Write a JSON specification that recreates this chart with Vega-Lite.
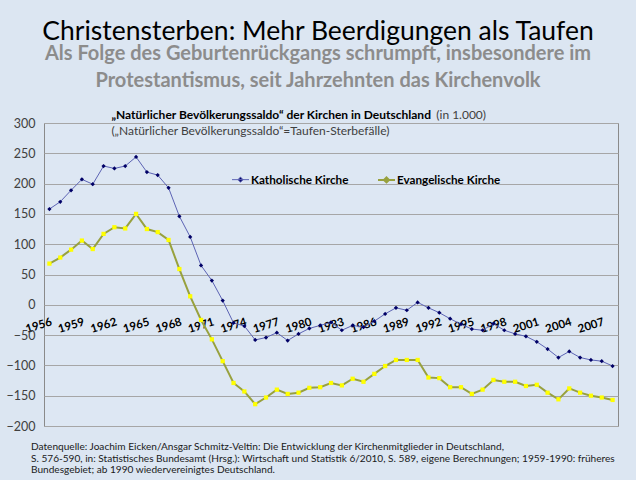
{
  "$schema": "https://vega.github.io/schema/vega-lite/v6.json",
  "autosize": "none",
  "padding": {"left": 44, "top": 123, "right": 18, "bottom": 54},
  "width": 574,
  "height": 303,
  "background": "#dce6f2",
  "title": {
    "text": "Christensterben: Mehr Beerdigungen als Taufen",
    "subtitle": ["Als Folge des Geburtenrückgangs schrumpft, insbesondere im", "Protestantismus, seit Jahrzehnten das Kirchenvolk"],
    "anchor": "middle",
    "frame": "group",
    "dx": -13,
    "offset": 18,
    "font": "Lato",
    "fontSize": 26.5,
    "fontWeight": "normal",
    "color": "#000000",
    "subtitleFont": "Lato",
    "subtitleFontSize": 20,
    "subtitleFontWeight": "bold",
    "subtitleColor": "#8c8c8c",
    "subtitlePadding": -1.5,
    "subtitleLineHeight": 27
  },
  "config": {
    "view": {"stroke": "#8a8a8a", "fill": "#dde7f3"},
    "font": "Lato"
  },
  "data": {"values": [
    {"year": 1956, "church": "Katholische Kirche", "value": 158},
    {"year": 1957, "church": "Katholische Kirche", "value": 170},
    {"year": 1958, "church": "Katholische Kirche", "value": 189},
    {"year": 1959, "church": "Katholische Kirche", "value": 207},
    {"year": 1960, "church": "Katholische Kirche", "value": 199},
    {"year": 1961, "church": "Katholische Kirche", "value": 229},
    {"year": 1962, "church": "Katholische Kirche", "value": 225},
    {"year": 1963, "church": "Katholische Kirche", "value": 229},
    {"year": 1964, "church": "Katholische Kirche", "value": 244},
    {"year": 1965, "church": "Katholische Kirche", "value": 219},
    {"year": 1966, "church": "Katholische Kirche", "value": 214},
    {"year": 1967, "church": "Katholische Kirche", "value": 193},
    {"year": 1968, "church": "Katholische Kirche", "value": 146},
    {"year": 1969, "church": "Katholische Kirche", "value": 112},
    {"year": 1970, "church": "Katholische Kirche", "value": 65},
    {"year": 1971, "church": "Katholische Kirche", "value": 40},
    {"year": 1972, "church": "Katholische Kirche", "value": 7},
    {"year": 1973, "church": "Katholische Kirche", "value": -30},
    {"year": 1974, "church": "Katholische Kirche", "value": -35},
    {"year": 1975, "church": "Katholische Kirche", "value": -58},
    {"year": 1976, "church": "Katholische Kirche", "value": -54},
    {"year": 1977, "church": "Katholische Kirche", "value": -46},
    {"year": 1978, "church": "Katholische Kirche", "value": -59},
    {"year": 1979, "church": "Katholische Kirche", "value": -48},
    {"year": 1980, "church": "Katholische Kirche", "value": -39},
    {"year": 1981, "church": "Katholische Kirche", "value": -34},
    {"year": 1982, "church": "Katholische Kirche", "value": -29},
    {"year": 1983, "church": "Katholische Kirche", "value": -42},
    {"year": 1984, "church": "Katholische Kirche", "value": -34},
    {"year": 1985, "church": "Katholische Kirche", "value": -37},
    {"year": 1986, "church": "Katholische Kirche", "value": -27},
    {"year": 1987, "church": "Katholische Kirche", "value": -15},
    {"year": 1988, "church": "Katholische Kirche", "value": -5},
    {"year": 1989, "church": "Katholische Kirche", "value": -9},
    {"year": 1990, "church": "Katholische Kirche", "value": 4},
    {"year": 1991, "church": "Katholische Kirche", "value": -5},
    {"year": 1992, "church": "Katholische Kirche", "value": -13},
    {"year": 1993, "church": "Katholische Kirche", "value": -23},
    {"year": 1994, "church": "Katholische Kirche", "value": -32},
    {"year": 1995, "church": "Katholische Kirche", "value": -40},
    {"year": 1996, "church": "Katholische Kirche", "value": -42},
    {"year": 1997, "church": "Katholische Kirche", "value": -31},
    {"year": 1998, "church": "Katholische Kirche", "value": -42},
    {"year": 1999, "church": "Katholische Kirche", "value": -48},
    {"year": 2000, "church": "Katholische Kirche", "value": -52},
    {"year": 2001, "church": "Katholische Kirche", "value": -61},
    {"year": 2002, "church": "Katholische Kirche", "value": -73},
    {"year": 2003, "church": "Katholische Kirche", "value": -87},
    {"year": 2004, "church": "Katholische Kirche", "value": -77},
    {"year": 2005, "church": "Katholische Kirche", "value": -87},
    {"year": 2006, "church": "Katholische Kirche", "value": -91},
    {"year": 2007, "church": "Katholische Kirche", "value": -93},
    {"year": 2008, "church": "Katholische Kirche", "value": -101},
    {"year": 1956, "church": "Evangelische Kirche", "value": 68},
    {"year": 1957, "church": "Evangelische Kirche", "value": 78},
    {"year": 1958, "church": "Evangelische Kirche", "value": 91},
    {"year": 1959, "church": "Evangelische Kirche", "value": 106},
    {"year": 1960, "church": "Evangelische Kirche", "value": 92},
    {"year": 1961, "church": "Evangelische Kirche", "value": 117},
    {"year": 1962, "church": "Evangelische Kirche", "value": 128},
    {"year": 1963, "church": "Evangelische Kirche", "value": 126},
    {"year": 1964, "church": "Evangelische Kirche", "value": 150},
    {"year": 1965, "church": "Evangelische Kirche", "value": 125},
    {"year": 1966, "church": "Evangelische Kirche", "value": 120},
    {"year": 1967, "church": "Evangelische Kirche", "value": 107},
    {"year": 1968, "church": "Evangelische Kirche", "value": 59},
    {"year": 1969, "church": "Evangelische Kirche", "value": 14},
    {"year": 1970, "church": "Evangelische Kirche", "value": -25},
    {"year": 1971, "church": "Evangelische Kirche", "value": -57},
    {"year": 1972, "church": "Evangelische Kirche", "value": -93},
    {"year": 1973, "church": "Evangelische Kirche", "value": -129},
    {"year": 1974, "church": "Evangelische Kirche", "value": -143},
    {"year": 1975, "church": "Evangelische Kirche", "value": -164},
    {"year": 1976, "church": "Evangelische Kirche", "value": -153},
    {"year": 1977, "church": "Evangelische Kirche", "value": -140},
    {"year": 1978, "church": "Evangelische Kirche", "value": -147},
    {"year": 1979, "church": "Evangelische Kirche", "value": -145},
    {"year": 1980, "church": "Evangelische Kirche", "value": -137},
    {"year": 1981, "church": "Evangelische Kirche", "value": -136},
    {"year": 1982, "church": "Evangelische Kirche", "value": -129},
    {"year": 1983, "church": "Evangelische Kirche", "value": -133},
    {"year": 1984, "church": "Evangelische Kirche", "value": -122},
    {"year": 1985, "church": "Evangelische Kirche", "value": -127},
    {"year": 1986, "church": "Evangelische Kirche", "value": -114},
    {"year": 1987, "church": "Evangelische Kirche", "value": -101},
    {"year": 1988, "church": "Evangelische Kirche", "value": -91},
    {"year": 1989, "church": "Evangelische Kirche", "value": -91},
    {"year": 1990, "church": "Evangelische Kirche", "value": -91},
    {"year": 1991, "church": "Evangelische Kirche", "value": -120},
    {"year": 1992, "church": "Evangelische Kirche", "value": -121},
    {"year": 1993, "church": "Evangelische Kirche", "value": -136},
    {"year": 1994, "church": "Evangelische Kirche", "value": -136},
    {"year": 1995, "church": "Evangelische Kirche", "value": -147},
    {"year": 1996, "church": "Evangelische Kirche", "value": -140},
    {"year": 1997, "church": "Evangelische Kirche", "value": -124},
    {"year": 1998, "church": "Evangelische Kirche", "value": -127},
    {"year": 1999, "church": "Evangelische Kirche", "value": -127},
    {"year": 2000, "church": "Evangelische Kirche", "value": -134},
    {"year": 2001, "church": "Evangelische Kirche", "value": -132},
    {"year": 2002, "church": "Evangelische Kirche", "value": -145},
    {"year": 2003, "church": "Evangelische Kirche", "value": -156},
    {"year": 2004, "church": "Evangelische Kirche", "value": -138},
    {"year": 2005, "church": "Evangelische Kirche", "value": -145},
    {"year": 2006, "church": "Evangelische Kirche", "value": -150},
    {"year": 2007, "church": "Evangelische Kirche", "value": -153},
    {"year": 2008, "church": "Evangelische Kirche", "value": -157}
  ]},
  "encoding": {
    "x": {
      "field": "year", "type": "quantitative",
      "scale": {"domain": [1955.5, 2008.5], "nice": false, "zero": false},
      "axis": {
        "values": [1956, 1959, 1962, 1965, 1968, 1971, 1974, 1977, 1980, 1983, 1986, 1989, 1992, 1995, 1998, 2001, 2004, 2007],
        "format": "d", "title": null, "offset": -121, "domain": false, "ticks": false, "grid": false,
        "labelAngle": -17, "labelAlign": "right", "labelBaseline": "top", "labelPadding": 11,
        "labelFont": "Lato", "labelFontSize": 11.5, "labelFontWeight": "bold", "labelColor": "#000000",
        "labelOverlap": false, "labelFlush": false, "labelBound": false
      }
    },
    "y": {
      "field": "value", "type": "quantitative",
      "scale": {"domain": [-200, 300], "nice": false, "zero": false},
      "axis": {
        "values": [-200, -150, -100, -50, 0, 50, 100, 150, 200, 250, 300],
        "title": null, "domain": false, "ticks": false, "grid": true, "gridColor": "#a6a6a6",
        "labelFont": "Lato", "labelFontSize": 12.5, "labelColor": "#404040", "labelPadding": 9
      }
    }
  },
  "layer": [
    {
      "mark": {"type": "line", "interpolate": "linear"},
      "encoding": {
        "stroke": {
          "field": "church", "type": "nominal",
          "scale": {"domain": ["Katholische Kirche", "Evangelische Kirche"], "range": ["#5c63b4", "#98a13e"]},
          "legend": {
            "title": null, "orient": "none", "legendX": 187, "legendY": 47, "direction": "horizontal",
            "columns": 2, "columnPadding": 25, "symbolType": "M-1,0H1M0,-0.3L0.3,0L0,0.3L-0.3,0Z",
            "symbolSize": 289, "symbolStrokeWidth": 1.5, "labelOffset": 1,
            "labelFont": "Lato", "labelFontSize": 11.7, "labelFontWeight": "bold", "labelColor": "#000000",
            "encode": {"symbols": {"update": {"fill": {"signal": "datum.value === 'Katholische Kirche' ? '#000066' : '#ffff00'"}}}}
          }
        },
        "strokeWidth": {
          "field": "church", "type": "nominal",
          "scale": {"domain": ["Katholische Kirche", "Evangelische Kirche"], "range": [1, 2]},
          "legend": null
        }
      }
    },
    {
      "transform": [{"filter": "datum.church === 'Katholische Kirche'"}],
      "mark": {"type": "point", "filled": true, "size": 18, "opacity": 1, "shape": "diamond", "fill": "#000066"}
    },
    {
      "transform": [{"filter": "datum.church === 'Evangelische Kirche'"}],
      "mark": {"type": "point", "filled": true, "size": 18, "opacity": 1, "shape": "square", "fill": "#ffff00"}
    },
    {
      "transform": [{"filter": "datum.year === 1956 && datum.church === 'Katholische Kirche'"}],
      "mark": {"type": "text", "align": "left", "baseline": "alphabetic", "font": "Lato", "fontSize": 12, "fontWeight": "bold", "color": "#000000", "dx": -3, "dy": -4},
      "encoding": {
        "x": {"datum": 1962},
        "y": {"datum": 300},
        "text": {"value": "„Natürlicher Bevölkerungssaldo“ der Kirchen in Deutschland"}
      }
    },
    {
      "transform": [{"filter": "datum.year === 1956 && datum.church === 'Katholische Kirche'"}],
      "mark": {"type": "text", "align": "left", "baseline": "alphabetic", "font": "Lato", "fontSize": 12, "color": "#404040", "dx": -3, "dy": -4},
      "encoding": {
        "x": {"datum": 1992},
        "y": {"datum": 300},
        "text": {"value": "(in 1.000)"}
      }
    },
    {
      "transform": [{"filter": "datum.year === 1956 && datum.church === 'Katholische Kirche'"}],
      "mark": {"type": "text", "align": "left", "baseline": "alphabetic", "font": "Lato", "fontSize": 12, "color": "#404040", "dx": -3, "dy": 12},
      "encoding": {
        "x": {"datum": 1962},
        "y": {"datum": 300},
        "text": {"value": "(„Natürlicher Bevölkerungssaldo“=Taufen-Sterbefälle)"}
      }
    },
    {
      "transform": [{"filter": "datum.year === 1956 && datum.church === 'Katholische Kirche'"}],
      "mark": {"type": "text", "align": "left", "baseline": "top", "font": "Lato", "fontSize": 10.1, "color": "#1a1a1a", "lineHeight": 11.5, "dx": -13, "dy": 16},
      "encoding": {
        "x": {"datum": 1955.5},
        "y": {"datum": -200},
        "text": {"value": [
          "Datenquelle: Joachim Eicken/Ansgar Schmitz-Veltin:  Die Entwicklung der Kirchenmitglieder in Deutschland,",
          "S. 576-590, in: Statistisches Bundesamt (Hrsg.): Wirtschaft und Statistik 6/2010, S. 589, eigene Berechnungen; 1959-1990: früheres",
          "Bundesgebiet; ab 1990 wiedervereinigtes Deutschland."
        ]}
      }
    }
  ]
}
